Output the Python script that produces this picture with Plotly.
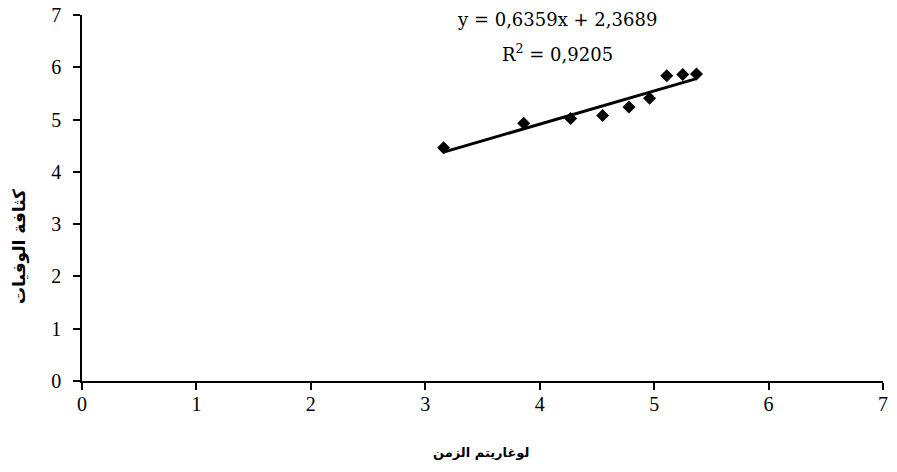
import plotly.graph_objects as go

# Data
log_time = [3.16, 3.86, 4.27, 4.55, 4.78, 4.96, 5.11, 5.25, 5.37]
log_value = [4.46, 4.93, 5.02, 5.08, 5.24, 5.41, 5.84, 5.86, 5.87]

slope = 0.6359
intercept = 2.3689
r_squared = 0.9205

x_ticks = [0, 1, 2, 3, 4, 5, 6, 7]
y_ticks = [0, 1, 2, 3, 4, 5, 6, 7]

x_title = "لوغاريتم الزمن"
y_title = "كثافة الوفيات"

trend_x = [min(log_time), max(log_time)]
trend_y = [slope * v + intercept for v in trend_x]

fig = go.Figure()
fig.add_trace(go.Scatter(x=trend_x, y=trend_y, mode="lines",
                         line=dict(color="black", width=3), showlegend=False,
                         hoverinfo="skip"))
fig.add_trace(go.Scatter(x=log_time, y=log_value, mode="markers",
                         marker=dict(symbol="diamond", size=10, color="black"),
                         showlegend=False))

serif = "Liberation Serif, Times New Roman, serif"
eq_font = dict(family="DejaVu Serif", size=18, color="black")
eq_text = "y = " + f"{slope:.4f}".replace(".", ",") + "x + " + f"{intercept:.4f}".replace(".", ",")
r_text = "R<sup>2</sup> = " + f"{r_squared:.4f}".replace(".", ",")

# page offset of the figure (browser default body margin)
OFF = 8
W, H = 897 - OFF, 472 - OFF
L, R, T, B = 82 - OFF, 14, 15 - OFF, 99 - OFF
PW, PH = W - L - R, H - T - B

def px(xp):
    return (xp - OFF - L) / PW

def py(yp):
    return (H - B - (yp - OFF)) / PH

fig.add_annotation(x=px(557), y=py(19), xref="paper", yref="paper", text=eq_text,
                   showarrow=False, font=eq_font, yanchor="middle")
fig.add_annotation(x=px(557), y=py(53), xref="paper", yref="paper", text=r_text,
                   showarrow=False, font=eq_font, yanchor="middle")
fig.add_annotation(x=px(481), y=py(452), xref="paper", yref="paper",
                   text="<b>" + x_title + "</b>", showarrow=False,
                   font=dict(family="DejaVu Sans", size=13, color="black"), yanchor="middle")
fig.add_annotation(x=px(19), y=py(247), xref="paper", yref="paper",
                   text="<b>" + y_title + "</b>", showarrow=False, textangle=-90,
                   font=dict(family="DejaVu Sans", size=17, color="black"),
                   xanchor="center", yanchor="middle")

axis_common = dict(showgrid=False, zeroline=False, showline=True, linecolor="black",
                   linewidth=1.5, ticks="outside", ticklen=7, tickcolor="black",
                   tickwidth=1.5, tickfont=dict(family=serif, size=20, color="black"),
                   range=[0, 7], automargin=False, ticklabeloverflow="allow")
fig.update_xaxes(tickvals=x_ticks, ticklabelstandoff=-3, **axis_common)
fig.update_yaxes(tickvals=y_ticks, ticklabelstandoff=8, **axis_common)

fig.update_layout(width=W, height=H, margin=dict(l=L, r=R, t=T, b=B),
                  plot_bgcolor="white", paper_bgcolor="white")
fig.write_html("out.html")
